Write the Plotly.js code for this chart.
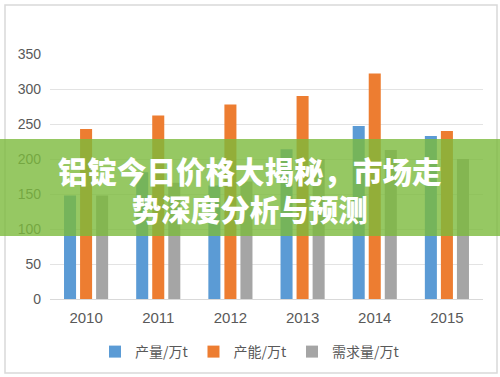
<!DOCTYPE html>
<html>
<head>
<meta charset="utf-8">
<script src="https://cdn.plot.ly/plotly-3.0.1.min.js"></script>
<style>html,body{margin:0;padding:0;background:#fff;}#chart{width:500px;height:377px;}</style>
</head>
<body>
<div id="chart"></div>
<script>
const years = ['2010', '2011', '2012', '2013', '2014', '2015'];
const output = [148, 181, 162, 214, 247, 233];
const capacity = [243, 262, 278, 290, 322, 240];
const demand = [148, 166, 168, 200, 213, 200];
const seriesNames = ['产量/万t', '产能/万t', '需求量/万t'];
const yTicks = [0, 50, 100, 150, 200, 250, 300, 350];
const bannerText = '铝锭今日价格大揭秘，市场走<br>势深度分析与预测';

const colors = ['#5B9BD5', '#ED7D31', '#A5A5A5'];
const series = [output, capacity, demand];
const traces = series.map((vals, i) => ({
  type: 'bar', x: years, y: vals, name: seriesNames[i],
  marker: {color: colors[i]}, hoverinfo: 'none'
}));

const T = 54, B = 78, L = 50, R = 17;
const PH = 377 - T - B, PW = 500 - L - R;
const py = y => (377 - B - y) / PH;   // pixel y -> paper y
const px = x => (x - L) / PW;         // pixel x -> paper x

const layout = {
  width: 500, height: 377,
  margin: {l: L, r: R, t: T, b: B, autoexpand: false},
  paper_bgcolor: '#ffffff', plot_bgcolor: '#ffffff',
  barmode: 'group', bargap: 0.333, bargroupgap: 0.25,
  font: {family: '"Noto Sans CJK SC", "Liberation Sans", sans-serif', color: '#595959'},
  xaxis: {
    type: 'category', showgrid: false, showline: true, linecolor: '#d9d9d9', linewidth: 1,
    ticks: '', ticklabelstandoff: 5,
    tickfont: {size: 15, color: '#595959', family: '"Liberation Sans", "DejaVu Sans", sans-serif'},
    fixedrange: true
  },
  yaxis: {
    range: [0, 350], tickvals: yTicks, ticktext: yTicks.map(String),
    showgrid: true, gridcolor: '#e3e3e3', gridwidth: 1, zeroline: false, showline: false,
    ticks: '', ticklabelstandoff: 8,
    tickfont: {size: 14, color: '#595959', family: '"Liberation Sans", "DejaVu Sans", sans-serif'},
    fixedrange: true
  },
  legend: {
    orientation: 'h', x: px(250), xanchor: 'center', y: py(352), yanchor: 'middle',
    font: {size: 14, color: '#595959'}, itemwidth: 30, tracegroupgap: 0,
    traceorder: 'normal'
  },
  shapes: [
    {type: 'rect', xref: 'paper', yref: 'paper', x0: px(5), x1: px(497), y0: py(373), y1: py(5),
      line: {color: '#d9d9d9', width: 1.5}, fillcolor: 'rgba(0,0,0,0)', layer: 'below'},
    {type: 'rect', xref: 'paper', yref: 'paper', x0: px(-2), x1: px(502), y0: py(236), y1: py(139),
      line: {width: 0}, fillcolor: 'rgba(124,186,60,0.8)', layer: 'above'}
  ],
  annotations: [
    {xref: 'paper', yref: 'paper', x: px(250), y: py(189), xanchor: 'center', yanchor: 'middle',
      text: bannerText, showarrow: false, align: 'center',
      font: {size: 29.5, color: '#ffffff', family: '"Noto Sans CJK SC", sans-serif', weight: 900}}
  ],
  showlegend: true
};

Plotly.newPlot('chart', traces, layout, {displayModeBar: false, staticPlot: true});
</script>
</body>
</html>
